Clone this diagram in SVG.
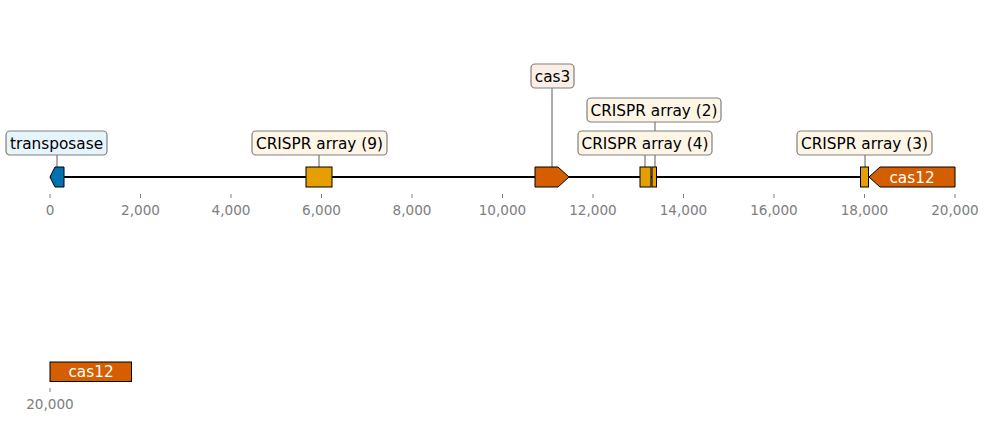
<svg xmlns="http://www.w3.org/2000/svg" width="988" height="422" viewBox="0 0 988 422">
<style>
.bb{stroke:#000;stroke-width:2;fill:none}
.ft{stroke:#000;stroke-width:1}
.blue{fill:#0072B2}.orange{fill:#E69F00}.red{fill:#D55E00}
.lbl{stroke:#808080;stroke-width:1.2}
.lb{fill:#e6f4fb}.lo{fill:#fdf5e6}.lr{fill:#fbeee6}
.cn{stroke:#333;stroke-width:0.8}
.tx{font-family:"DejaVu Sans",sans-serif;font-size:15.3px;fill:#000;text-anchor:middle}
.wt{font-family:"DejaVu Sans",sans-serif;font-size:15.3px;fill:#fff;text-anchor:middle}
.tk{stroke:#808080;stroke-width:1}
.tl{font-family:"DejaVu Sans",sans-serif;font-size:13.6px;fill:#808080;text-anchor:middle}
</style>
<rect width="988" height="422" fill="#fff"/>
<g id="connectors">
<line class="bb" x1="50" y1="177" x2="955" y2="177"/>
<line class="cn" x1="57" y1="155" x2="57" y2="167"/>
<line class="cn" x1="319" y1="155" x2="319" y2="167"/>
<line class="cn" x1="552" y1="88" x2="552" y2="167"/>
<line class="cn" x1="655" y1="122" x2="655" y2="167"/>
<line class="cn" x1="645" y1="155" x2="645" y2="167"/>
<line class="cn" x1="865" y1="155" x2="865" y2="167"/>
</g>
<g id="axis">
<g class="tk">
<line x1="50" y1="194" x2="50" y2="198"/><line x1="140.5" y1="194" x2="140.5" y2="198"/><line x1="231" y1="194" x2="231" y2="198"/><line x1="321.5" y1="194" x2="321.5" y2="198"/><line x1="412" y1="194" x2="412" y2="198"/><line x1="502.5" y1="194" x2="502.5" y2="198"/><line x1="593" y1="194" x2="593" y2="198"/><line x1="683.5" y1="194" x2="683.5" y2="198"/><line x1="774" y1="194" x2="774" y2="198"/><line x1="864.5" y1="194" x2="864.5" y2="198"/><line x1="955" y1="194" x2="955" y2="198"/>
<line x1="50" y1="388" x2="50" y2="392"/>
</g>
<g class="tl">
<text x="50" y="215">0</text><text x="140.5" y="215">2,000</text><text x="231" y="215">4,000</text><text x="321.5" y="215">6,000</text><text x="412" y="215">8,000</text><text x="502.5" y="215">10,000</text><text x="593" y="215">12,000</text><text x="683.5" y="215">14,000</text><text x="774" y="215">16,000</text><text x="864.5" y="215">18,000</text><text x="955" y="215">20,000</text>
<text x="50" y="409">20,000</text>
</g>
</g>
<g id="transposase">
<polygon class="ft blue" points="50,177 55,167 64,167 64,187 55,187"/>
<rect class="lbl lb" x="6" y="131" width="101" height="24" rx="4"/>
<text class="tx" x="56.5" y="148.6">transposase</text>
</g>
<g id="crispr9">
<rect class="ft orange" x="306" y="167" width="26" height="20"/>
<rect class="lbl lo" x="252" y="131" width="135" height="24" rx="4"/>
<text class="tx" x="319.5" y="148.6">CRISPR array (9)</text>
</g>
<g id="cas3">
<polygon class="ft red" points="535,167 558,167 569,177 558,187 535,187"/>
<rect class="lbl lr" x="531" y="64" width="43" height="24" rx="4"/>
<text class="tx" x="552.5" y="81.6">cas3</text>
</g>
<g id="crispr2">
<rect class="ft orange" x="652" y="167" width="4.5" height="20"/>
<rect class="lbl lo" x="587" y="98" width="134" height="24" rx="4"/>
<text class="tx" x="654" y="115.6">CRISPR array (2)</text>
</g>
<g id="crispr4">
<rect class="ft orange" x="640" y="167" width="11" height="20"/>
<rect class="lbl lo" x="578" y="131" width="134" height="24" rx="4"/>
<text class="tx" x="645" y="148.6">CRISPR array (4)</text>
</g>
<g id="crispr3">
<rect class="ft orange" x="860.5" y="167" width="8" height="20"/>
<rect class="lbl lo" x="797" y="131" width="135" height="24" rx="4"/>
<text class="tx" x="864.5" y="148.6">CRISPR array (3)</text>
</g>
<g id="cas12">
<polygon class="ft red" points="869,177 880,167 955,167 955,187 880,187"/>
<text class="wt" x="912" y="182.5">cas12</text>
</g>
<g id="cas12-cont">
<rect class="ft red" x="50" y="362" width="81.5" height="19.5"/>
<text class="wt" x="91" y="377">cas12</text>
</g>
</svg>
